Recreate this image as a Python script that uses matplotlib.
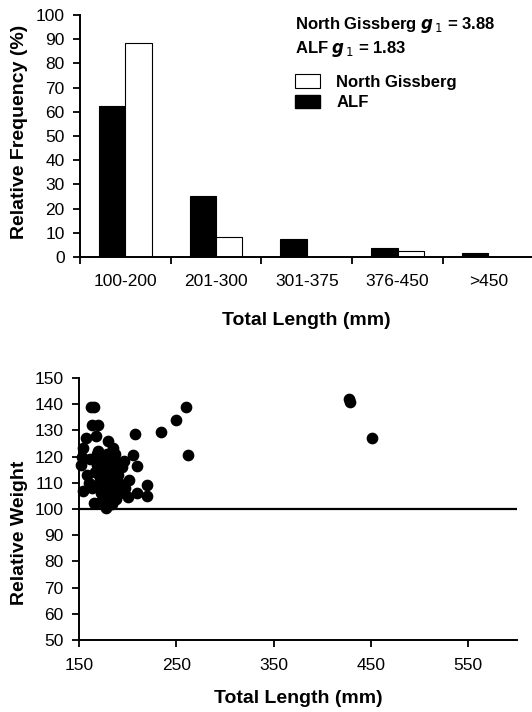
import numpy as np
import matplotlib
matplotlib.use("Agg")
import matplotlib.pyplot as plt
from matplotlib.patches import Patch

plt.rcParams['font.family'] = ['Liberation Sans', 'DejaVu Sans']

# --- top panel: length-frequency ---
length_classes = ["100-200", "201-300", "301-375", "376-450", ">450"]
alf_freq = [62.5, 25.3, 7.3, 3.8, 1.8]
north_gissberg_freq = [88.5, 8.4, 0, 2.6, 0]

# --- bottom panel: relative weight vs total length ---
total_length = [
    162, 165, 163, 170, 167, 157, 154, 152, 153, 180, 185, 187,
    208, 205, 210, 220, 220, 210, 200, 201, 194, 196, 154, 163,
    165, 170, 178, 184, 160, 168, 172, 175, 178, 182, 176, 171,
    166, 174, 179, 183, 186, 189, 191, 177, 173, 169, 181, 185,
    188, 192, 176, 172, 168, 180, 184, 190, 174, 178, 182, 186,
    170, 175, 179, 158, 161, 193, 197, 186, 180, 176,
    234, 250, 260, 262, 428, 429, 451,
]
relative_weight = [
    139, 139, 132, 132, 128, 127, 123.5, 117, 120, 126, 123.5, 121,
    128.5, 120.5, 116.5, 109, 105, 106, 104.5, 111, 116, 118.5, 107, 108,
    102.5, 102.5, 100.5, 102, 110, 121, 118, 115, 112, 110, 120, 113,
    114, 108, 105, 107, 112, 116, 110, 104, 106, 109, 118, 108,
    104, 106, 102, 111, 117, 114, 116, 113, 110, 107, 103, 110,
    122, 119, 121, 113, 119, 107, 108, 119, 108, 112,
    129.5, 134, 139, 120.5, 142, 141, 127,
]
reference_wr = 100

fig = plt.figure(figsize=(5.32, 7.12), dpi=100)

# top: grouped bars
ax1 = fig.add_axes([0.150, 0.639, 0.850, 0.340])
x = np.arange(len(length_classes))
w = 0.29
ax1.bar(x - w / 2, alf_freq, w, color='black', edgecolor='black', linewidth=0.8)
ax1.bar(x + w / 2, north_gissberg_freq, w, color='white', edgecolor='black', linewidth=0.8)
ax1.set_xlim(-0.5, len(length_classes) - 0.52)
ax1.set_ylim(0, 100)
ax1.set_yticks(range(0, 101, 10))
ax1.set_xticks(x)
ax1.set_xticklabels(length_classes)
ax1.set_xticks(np.arange(-0.5, len(length_classes) - 0.5, 1), minor=True)
ax1.tick_params(axis='x', which='major', length=0, pad=12, labelsize=12.5)
ax1.tick_params(axis='x', which='minor', length=5, width=1.3, direction='out')
ax1.tick_params(axis='y', length=5, width=1.3, labelsize=12.5, pad=6)
ax1.set_ylabel("Relative Frequency (%)", fontsize=14, fontweight='bold')
ax1.yaxis.set_label_coords(-0.115, 0.517)
ax1.set_xlabel("Total Length (mm)", fontsize=14, fontweight='bold', labelpad=17)
for s in ['top', 'right']:
    ax1.spines[s].set_visible(False)
for s in ['left', 'bottom']:
    ax1.spines[s].set_linewidth(1.4)

ax1.text(0.475, 0.957, r"North Gissberg $\boldsymbol{g}_{\,1}$ = 3.88", transform=ax1.transAxes,
         fontsize=12, fontweight='bold', va='center', ha='left')
ax1.text(0.475, 0.860, r"ALF $\boldsymbol{g}_{\,1}$ = 1.83", transform=ax1.transAxes,
         fontsize=12, fontweight='bold', va='center', ha='left')
handles = [Patch(facecolor='white', edgecolor='black', linewidth=0.8, label="North Gissberg"),
           Patch(facecolor='black', edgecolor='black', label="ALF")]
ax1.legend(handles=handles, loc='upper left', bbox_to_anchor=(0.475, 0.755), frameon=False,
           prop={'weight': 'bold', 'size': 12}, handlelength=1.5, handleheight=0.85,
           handletextpad=1.0, labelspacing=0.3, borderpad=0, borderaxespad=0)

# bottom: scatter
ax2 = fig.add_axes([0.1485, 0.101, 0.823, 0.368])
ax2.scatter(total_length, relative_weight, s=55, color='black', zorder=3, clip_on=False)
ax2.axhline(reference_wr, color='black', linewidth=1.6)
ax2.set_xlim(150, 600)
ax2.set_ylim(50, 150)
ax2.set_xticks(range(150, 551, 100))
ax2.set_yticks(range(50, 151, 10))
ax2.tick_params(axis='both', length=5, width=1.3, labelsize=12.5)
ax2.tick_params(axis='x', pad=8)
ax2.tick_params(axis='y', pad=6)
ax2.set_ylabel("Relative Weight", fontsize=14, fontweight='bold')
ax2.yaxis.set_label_coords(-0.116, 0.41)
ax2.set_xlabel("Total Length (mm)", fontsize=14, fontweight='bold', labelpad=12)
for s in ['top', 'right']:
    ax2.spines[s].set_visible(False)
for s in ['left', 'bottom']:
    ax2.spines[s].set_linewidth(1.4)

fig.savefig("out.png", dpi=100)
